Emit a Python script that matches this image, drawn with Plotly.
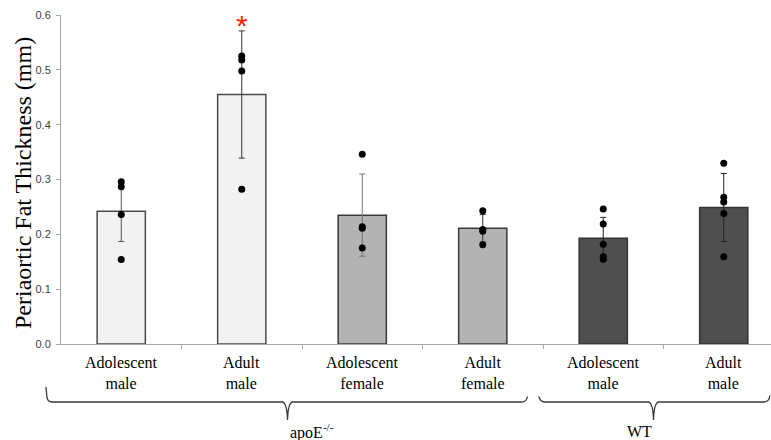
import plotly.graph_objects as go

# ---- data ----
categories = ["Adolescent<br>male", "Adult<br>male", "Adolescent<br>female",
              "Adult<br>female", "Adolescent<br>male", "Adult<br>male"]
means = [0.242, 0.455, 0.235, 0.211, 0.193, 0.249]
sds = [0.055, 0.116, 0.075, 0.025, 0.038, 0.062]
points = [
    [0.296, 0.287, 0.236, 0.154],
    [0.525, 0.518, 0.498, 0.282],
    [0.346, 0.214, 0.211, 0.175],
    [0.243, 0.209, 0.2055, 0.181],
    [0.246, 0.219, 0.182, 0.159, 0.1545],
    [0.3295, 0.2675, 0.259, 0.238, 0.159],
]
groups = ["apoE<sup>-/-</sup>", "WT"]
y_ticks = [0.0, 0.1, 0.2, 0.3, 0.4, 0.5, 0.6]
significant = [1]

# ---- styling ----
fills = ["#f2f2f2", "#f2f2f2", "#b3b3b3", "#b3b3b3", "#4f4f4f", "#4f4f4f"]
outlines = ["#4a4a4a", "#4a4a4a", "#3a3a3a", "#3a3a3a", "#333333", "#333333"]
err_cols = ["#555555", "#333333", "#777777", "#333333", "#222222", "#222222"]

W, H = 771, 440
ML, MR, MT, MB = 61, 0, 15, 96
PW, PH = W - ML - MR, H - MT - MB


def px(x):
    return (x - ML) / PW


def py(y):
    return (H - MB - y) / PH


fig = go.Figure()
xs = list(range(len(categories)))
for i in xs:
    fig.add_trace(go.Bar(
        x=[i], y=[means[i]], width=0.4,
        marker=dict(color=fills[i], line=dict(color=outlines[i], width=1.5)),
        error_y=dict(type="data", array=[sds[i]], visible=True,
                     color=err_cols[i], thickness=1, width=3),
        showlegend=False, hoverinfo="skip"))

for i in xs:
    fig.add_trace(go.Scatter(
        x=[i] * len(points[i]), y=points[i], mode="markers",
        marker=dict(color="black", size=7),
        showlegend=False, hoverinfo="skip"))

annotations = []
for i in xs:
    annotations.append(dict(
        x=i, xref="x", y=py(352), yref="paper", text=categories[i],
        showarrow=False, yanchor="top", xanchor="center",
        font=dict(family="Liberation Serif", size=16, color="black")))

for i in significant:
    annotations.append(dict(
        x=i, xref="x", y=means[i] + sds[i], yref="y", text="*",
        showarrow=False, yanchor="bottom", xanchor="center", yshift=-13,
        font=dict(family="Liberation Sans", size=30, color="#ff2200")))

# y-axis title
annotations.append(dict(
    x=px(23), xref="paper", y=py(183), yref="paper",
    text="Periaortic Fat Thickness (mm)", textangle=-90, showarrow=False,
    xanchor="center", yanchor="middle",
    font=dict(family="Liberation Serif", size=24, color="black")))

# group labels
annotations.append(dict(x=px(288), xref="paper", y=py(419), yref="paper",
                        text=groups[0], showarrow=False, yanchor="top",
                        font=dict(family="Liberation Serif", size=16, color="black")))
annotations.append(dict(x=px(654), xref="paper", y=py(421), yref="paper",
                        text=groups[1], showarrow=False, yanchor="top",
                        font=dict(family="Liberation Serif", size=16, color="black")))


def brace(x0, y0, x1, y1, xm, yh, ytip):
    pts = [
        ("M", [(x0, y0)]),
        ("L", [(x0 + 1, yh - 4)]),
        ("Q", [(x0 + 2, yh), (x0 + 7, yh)]),
        ("L", [(xm - 5, yh)]),
        ("Q", [(xm - 0.5, yh + 1), (xm, ytip)]),
        ("Q", [(xm + 0.5, yh + 1), (xm + 5, yh)]),
        ("L", [(x1 - 6, yh)]),
        ("Q", [(x1 - 1, yh), (x1, y1)]),
    ]
    s = ""
    for cmd, cs in pts:
        s += cmd + " " + " ".join(f"{px(a):.5f},{py(b):.5f}" for a, b in cs) + " "
    return s.strip()


shapes = [
    dict(type="path", xref="paper", yref="paper",
         path=brace(46, 387, 527.5, 396.5, 287.5, 402, 420),
         line=dict(color="#3a3a3a", width=1.3)),
    dict(type="path", xref="paper", yref="paper",
         path=brace(538.5, 396.5, 770, 395.5, 653.5, 402, 420),
         line=dict(color="#3a3a3a", width=1.3)),
]

fig.update_layout(
    width=W, height=H,
    margin=dict(l=ML, r=MR, t=MT, b=MB, pad=0),
    paper_bgcolor="white", plot_bgcolor="white",
    barmode="overlay",
    annotations=annotations, shapes=shapes,
    xaxis=dict(range=[-0.5, -0.5 + PW / 120.5], showgrid=False, zeroline=False,
               showline=True, linecolor="#a6a6a6", linewidth=1,
               tickvals=[0.5, 1.5, 2.5, 3.5, 4.5], ticks="outside", ticklen=4,
               tickcolor="#a6a6a6", showticklabels=False),
    yaxis=dict(range=[0, 0.6], tickvals=y_ticks, tickformat=".1f",
               showgrid=False, zeroline=False, showline=True,
               linecolor="#a6a6a6", linewidth=1, ticks="outside", ticklen=4,
               tickcolor="#a6a6a6", ticklabelstandoff=3,
               tickfont=dict(family="Liberation Sans", size=11, color="#404040")),
)

fig.write_html("out.html", config={"displayModeBar": False},
               post_script="document.body.style.margin='0';document.body.style.overflow='hidden';")
